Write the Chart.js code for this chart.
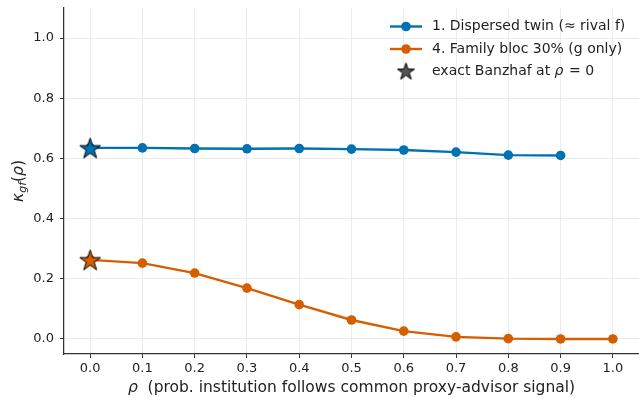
<!DOCTYPE html>
<html>
<head>
<meta charset="utf-8">
<script src="https://cdn.jsdelivr.net/npm/chart.js@4/dist/chart.umd.min.js"></script>
<style>
  html, body { margin: 0; padding: 0; background: #ffffff; }
  #wrap { width: 639px; height: 398px; }
</style>
</head>
<body>
<div id="wrap"><canvas id="c" width="639" height="398"></canvas></div>
<script>
// ---- data ----
const rho = [0.0, 0.1, 0.2, 0.3, 0.4, 0.5, 0.6, 0.7, 0.8, 0.9, 1.0];
const dispersedTwin = [0.635, 0.635, 0.633, 0.632, 0.633, 0.631, 0.628, 0.621, 0.611, 0.610];
const familyBloc = [0.263, 0.252, 0.219, 0.169, 0.114, 0.063, 0.026, 0.007, 0.001, 0.000, 0.000];
const xTickValues = [0.0, 0.1, 0.2, 0.3, 0.4, 0.5, 0.6, 0.7, 0.8, 0.9, 1.0];
const yTickValues = [0.0, 0.2, 0.4, 0.6, 0.8, 1.0];
const seriesNames = ['1. Dispersed twin (≈ rival f)', '4. Family bloc 30% (g only)'];
const starLabel = 'exact Banzhaf at ';
const xTitle = '  (prob. institution follows common proxy-advisor signal)';

const BLUE = '#0072B2';
const ORANGE = '#D55E00';
const GREY = '#555555';
const TEXT = '#222222';
const FONT = '"DejaVu Sans", sans-serif';
const TITLE_PX = 15.5;

function toPoints(xs, ys) {
  return ys.map((v, i) => ({ x: xs[i], y: v }));
}

function makeStar(fill, R) {
  const size = Math.ceil(2 * R + 3);
  const cv = document.createElement('canvas');
  cv.width = size; cv.height = size;
  const g = cv.getContext('2d');
  const c = size / 2;
  const r = R * 0.381966;
  g.beginPath();
  for (let i = 0; i < 10; i++) {
    const rad = (i % 2 === 0) ? R : r;
    const a = -Math.PI / 2 + i * Math.PI / 5;
    const px = c + rad * Math.cos(a);
    const py = c + rad * Math.sin(a) + R * 0.1;
    if (i === 0) g.moveTo(px, py); else g.lineTo(px, py);
  }
  g.closePath();
  g.fillStyle = fill;
  g.fill();
  g.lineWidth = 1;
  g.strokeStyle = '#000000';
  g.lineJoin = 'miter';
  g.stroke();
  return cv;
}

const starBlue = makeStar(BLUE, 11);
const starOrange = makeStar(ORANGE, 11);
const starGrey = makeStar(GREY, 9);

function zeroPad(s) {
  s.paddingTop = 0; s.paddingBottom = 0; s.paddingLeft = 0; s.paddingRight = 0;
}

const overlay = {
  id: 'overlay',
  afterDraw(chart) {
    const ctx = chart.ctx;
    const area = chart.chartArea;
    ctx.save();
    // ---- legend (frameless, upper right) ----
    const lx0 = 390, lx1 = 422, lmx = 406, tx = 432;
    const rows = [26.5, 49, 71];
    ctx.textBaseline = 'middle';
    ctx.textAlign = 'left';
    ctx.fillStyle = TEXT;
    [BLUE, ORANGE].forEach((col, i) => {
      ctx.strokeStyle = col;
      ctx.lineWidth = 2.4;
      ctx.beginPath();
      ctx.moveTo(lx0, rows[i]); ctx.lineTo(lx1, rows[i]);
      ctx.stroke();
      ctx.fillStyle = col;
      ctx.beginPath();
      ctx.arc(lmx, rows[i], 4.8, 0, Math.PI * 2);
      ctx.fill();
      ctx.fillStyle = TEXT;
      ctx.font = '14px ' + FONT;
      ctx.fillText(seriesNames[i], tx, rows[i]);
    });
    ctx.drawImage(starGrey, lmx - starGrey.width / 2, rows[2] - starGrey.height / 2);
    ctx.font = '14px ' + FONT;
    ctx.fillText(starLabel, tx, rows[2]);
    let w = ctx.measureText(starLabel).width;
    ctx.font = 'italic 14px ' + FONT;
    ctx.fillText('ρ', tx + w, rows[2]);
    w += ctx.measureText('ρ').width;
    ctx.font = '14px ' + FONT;
    ctx.fillText(' = 0', tx + w + 1, rows[2]);

    // ---- x-axis title ----
    ctx.font = 'italic ' + TITLE_PX + 'px ' + FONT;
    const wr = ctx.measureText('ρ').width;
    ctx.font = TITLE_PX + 'px ' + FONT;
    const wt = ctx.measureText(xTitle).width;
    const cx = (area.left + area.right) / 2;
    let sx = cx - (wr + wt) / 2;
    ctx.textBaseline = 'middle';
    ctx.font = 'italic ' + TITLE_PX + 'px ' + FONT;
    ctx.fillText('ρ', sx, 388);
    ctx.font = TITLE_PX + 'px ' + FONT;
    ctx.fillText(xTitle, sx + wr, 388);

    // ---- y-axis title: kappa_{gf}(rho) ----
    const cy = (area.top + area.bottom) / 2;
    ctx.translate(19, cy);
    ctx.rotate(-Math.PI / 2);
    const parts = [
      { t: 'κ', f: 'italic ' + TITLE_PX + 'px ' + FONT, dy: 0 },
      { t: 'gf', f: 'italic 11px ' + FONT, dy: 4 },
      { t: '(', f: TITLE_PX + 'px ' + FONT, dy: 0 },
      { t: 'ρ', f: 'italic ' + TITLE_PX + 'px ' + FONT, dy: 0 },
      { t: ')', f: TITLE_PX + 'px ' + FONT, dy: 0 }
    ];
    let total = 0;
    parts.forEach(p => { ctx.font = p.f; p.w = ctx.measureText(p.t).width; total += p.w; });
    let px = -total / 2;
    ctx.textAlign = 'left';
    parts.forEach(p => {
      ctx.font = p.f;
      ctx.fillText(p.t, px, p.dy);
      px += p.w;
    });
    ctx.restore();
  }
};

new Chart(document.getElementById('c'), {
  type: 'line',
  data: {
    datasets: [
      {
        label: seriesNames[0],
        data: toPoints(rho, dispersedTwin),
        borderColor: BLUE,
        backgroundColor: BLUE,
        borderWidth: 2.4,
        pointRadius: 4.8,
        pointBorderWidth: 0,
        pointBackgroundColor: BLUE,
        tension: 0,
        order: 2
      },
      {
        label: seriesNames[1],
        data: toPoints(rho, familyBloc),
        borderColor: ORANGE,
        backgroundColor: ORANGE,
        borderWidth: 2.4,
        pointRadius: 4.8,
        pointBorderWidth: 0,
        pointBackgroundColor: ORANGE,
        tension: 0,
        order: 2
      },
      {
        label: 'star1',
        data: [{ x: rho[0], y: dispersedTwin[0] }],
        showLine: false,
        pointStyle: starBlue,
        order: 0
      },
      {
        label: 'star4',
        data: [{ x: rho[0], y: familyBloc[0] }],
        showLine: false,
        pointStyle: starOrange,
        order: 0
      }
    ]
  },
  options: {
    responsive: false,
    animation: false,
    devicePixelRatio: 1,
    layout: { autoPadding: false, padding: { left: 0, right: 0, top: 8, bottom: 0 } },
    plugins: { legend: { display: false }, tooltip: { enabled: false } },
    scales: {
      x: {
        type: 'linear',
        min: -0.05,
        max: 1.05,
        afterBuildTicks: (s) => { s.ticks = xTickValues.map(v => ({ value: v })); },
        afterFit: (s) => { s.height = 44; zeroPad(s); },
        ticks: {
          callback: (v) => Number(v).toFixed(1),
          color: TEXT,
          font: { family: FONT, size: 13 },
          padding: 3,
          maxRotation: 0
        },
        grid: { color: '#ebebeb', lineWidth: 1, tickColor: '#333333', tickLength: 4, drawTicks: true },
        border: { color: '#333333', width: 1.25 }
      },
      y: {
        type: 'linear',
        min: -0.05,
        max: 1.1,
        afterBuildTicks: (s) => { s.ticks = yTickValues.map(v => ({ value: v })); },
        afterFit: (s) => { s.width = 64; zeroPad(s); },
        ticks: {
          callback: (v) => Number(v).toFixed(1),
          color: TEXT,
          font: { family: FONT, size: 13 },
          padding: 6
        },
        grid: { color: '#ebebeb', lineWidth: 1, tickColor: '#333333', tickLength: 4, drawTicks: true },
        border: { color: '#333333', width: 1.25 }
      }
    }
  },
  plugins: [overlay]
});
</script>
</body>
</html>
